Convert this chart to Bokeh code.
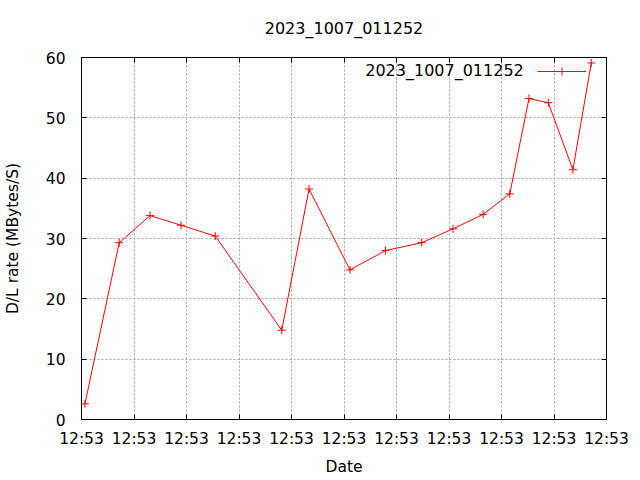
from datetime import datetime, timezone
from bokeh.plotting import figure
from bokeh.models import (Range1d, FixedTicker, DatetimeTickFormatter, LinearAxis,
                          CustomJSTickFormatter, Legend, LegendItem, Label)
from bokeh.embed import file_html
from bokeh.resources import INLINE

# ---- data ----
title_text = "2023_1007_011252"
series_name = "2023_1007_011252"
x_label = "Date"
y_label = "D/L rate (MBytes/S)"
base_time = datetime(2023, 10, 7, 12, 53, 0, tzinfo=timezone.utc)
offset_s = [0.33, 3.59, 6.53, 9.48, 12.74, 19.07, 21.67, 25.57, 28.95,
            32.40, 35.38, 38.25, 40.79, 42.62, 44.46, 46.80, 48.55]
rate = [2.6, 29.3, 33.8, 32.2, 30.4, 14.8, 38.2, 24.8, 28.0,
        29.3, 31.6, 34.0, 37.4, 53.2, 52.5, 41.4, 59.1]
x_tick_offsets_s = [0, 5, 10, 15, 20, 25, 30, 35, 40, 45, 50]
y_ticks = [0, 10, 20, 30, 40, 50, 60]

base_ms = base_time.timestamp() * 1000.0
times = [base_ms + s * 1000.0 for s in offset_s]
x_ticks = [base_ms + s * 1000.0 for s in x_tick_offsets_s]

FONT = "DejaVu Sans"
FS = "15.5px"
FS_T = "16px"

p = figure(width=640, height=480, x_axis_type="datetime",
           x_range=Range1d(x_ticks[0], x_ticks[-1]), y_range=Range1d(y_ticks[0], y_ticks[-1]),
           output_backend="svg", toolbar_location=None,
           min_border_left=80, min_border_right=34, min_border_top=57, min_border_bottom=61,
           title=title_text)
p.background_fill_color = "white"
p.border_fill_color = "white"
p.outline_line_color = "black"
p.outline_line_width = 1

p.title.align = "center"
p.title.vertical_align = "top"
p.title.text_font = FONT
p.title.text_font_size = FS_T
p.title.text_font_style = "normal"
p.title.text_color = "black"
p.title.standoff = 36

xt = FixedTicker(ticks=x_ticks)
yt = FixedTicker(ticks=y_ticks, minor_ticks=[])
fmt = "%H:%M"
xfmt = DatetimeTickFormatter(microseconds=fmt, milliseconds=fmt, seconds=fmt, minsec=fmt,
                             minutes=fmt, hourmin=fmt, hours=fmt, days=fmt, months=fmt, years=fmt)

xa = p.xaxis[0]
xa.ticker = xt
xa.formatter = xfmt
ya = p.yaxis[0]
ya.ticker = yt
p.xgrid.ticker = xt
p.ygrid.ticker = yt

for ax in (xa, ya):
    ax.major_tick_in = 5
    ax.major_tick_out = 0
    ax.minor_tick_in = 0
    ax.minor_tick_out = 0
    ax.axis_line_color = "black"
    ax.major_tick_line_color = "black"
    ax.major_label_text_font = FONT
    ax.major_label_text_font_size = FS
    ax.major_label_text_color = "black"
    ax.axis_label_text_font = FONT
    ax.axis_label_text_font_size = FS
    ax.axis_label_text_font_style = "normal"
    ax.axis_label_text_color = "black"

xa.axis_label = x_label
xa.major_label_standoff = 10
xa.axis_label_standoff = 7
ya.axis_label = y_label
ya.major_label_standoff = 16
ya.axis_label_standoff = 21

blank = CustomJSTickFormatter(code="return ''")
top = LinearAxis(ticker=xt, formatter=blank, major_tick_in=5, major_tick_out=0,
                 minor_tick_in=0, minor_tick_out=0, major_label_standoff=0)
right = LinearAxis(ticker=yt, formatter=blank, major_tick_in=5, major_tick_out=0,
                   minor_tick_in=0, minor_tick_out=0, major_label_standoff=0)
p.add_layout(top, "above")
p.add_layout(right, "right")

for g in (p.xgrid, p.ygrid):
    g.grid_line_color = "#a0a0a0"
    g.grid_line_dash = "2 2"
    g.grid_line_width = 1

r_line = p.line(times, rate, line_color="red", line_width=1)
r_pts = p.scatter(times, rate, marker="cross", size=8, line_color="red", line_width=1)

legend = Legend(items=[LegendItem(label=" ", renderers=[r_line, r_pts])],
                location=(456, 338), glyph_width=49, glyph_height=20, padding=0, margin=0,
                spacing=0, label_standoff=0, label_width=0, label_height=0,
                label_text_font_size="1px", border_line_alpha=0, background_fill_alpha=0)
p.add_layout(legend)

p.add_layout(Label(x=base_ms + 42.12 * 1000.0, y=57.78, text=series_name,
                   text_align="right", text_baseline="middle",
                   text_font=FONT, text_font_size=FS_T, text_color="black"))

open("out.html", "w").write(file_html(p, INLINE))
